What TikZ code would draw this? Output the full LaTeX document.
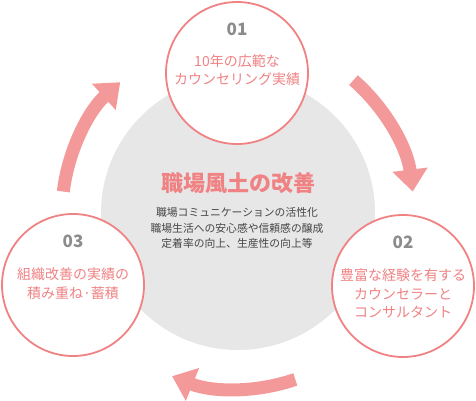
\documentclass[tikz,border=0pt]{standalone}
\usepackage{fontspec}
\setmainfont{Noto Sans CJK JP}
\usepackage{tikz}
\usetikzlibrary{positioning,arrows.meta}
\definecolor{rosepink}{RGB}{240, 130, 132}
\definecolor{arrowpink}{RGB}{244, 153, 154}
\definecolor{hubgray}{RGB}{231, 231, 231}
\definecolor{numgray}{RGB}{140, 140, 140}
\definecolor{textdark}{RGB}{70, 70, 70}

\begin{document}
\begin{tikzpicture}[
  x=1pt, y=1pt,
  hub/.style={
    circle, fill=hubgray, minimum size=274pt, inner sep=0pt
  },
  stage/.style={
    circle, draw=rosepink, line width=1.8pt, fill=white,
    minimum size=142pt, inner sep=0pt
  },
  num/.style={font=\fontsize{17}{17}\selectfont\bfseries, text=numgray},
  lbl/.style={
    anchor=north, align=center, inner sep=0pt, text=rosepink,
    font=\fontsize{14}{18.5}\selectfont
  },
  arr/.style={-{Triangle[width=34pt, length=22pt]}, line width=13pt, arrowpink}
]
\useasboundingbox (0,0) rectangle (476,400);

%% ── CENTRE ──
\coordinate (mid) at (238,187);
\node[hub] (hub) at (mid) {};
\node[text=rosepink, font=\fontsize{22}{22}\selectfont\bfseries]
  (title) at (238,217) {職場風土の改善};
\node[align=center, text=textdark, inner sep=0pt,
  font=\fontsize{10.8}{15.5}\selectfont] (body) at (237,172) {
  職場コミュニケーションの活性化\\
  職場生活への安心感や信頼感の醸成\\
  定着率の向上、生産性の向上等
};

%% ── STAGES ──
\node[stage] (c1) at (237,327) {};
\node[num] (n1) at ([yshift=44pt]c1.center) {01};
\node[lbl] (t1) at ([yshift=19pt]c1.center) {10年の広範な\\カウンセリング実績};

\node[stage] (c2) at (403,114) {};
\node[num] (n2) at ([yshift=44pt]c2.center) {02};
\node[lbl] (t2) at ([yshift=17pt]c2.center) {豊富な経験を有する\\カウンセラーと\\コンサルタント};

\node[stage] (c3) at (73,115) {};
\node[num] (n3) at ([yshift=44pt]c3.center) {03};
\node[lbl] (t3) at ([yshift=17pt]c3.center) {組織改善の実績の\\積み重ね·蓄積};

%% ── CYCLE ARROWS ──
\draw[arr] ([shift=(49:176)]mid) arc[start angle=49, end angle=7, radius=176];
\draw[arr] ([shift=(289:176)]mid) arc[start angle=289, end angle=248, radius=176];
\draw[arr] ([shift=(173:176)]mid) arc[start angle=173, end angle=132, radius=176];

\end{tikzpicture}
\end{document}
